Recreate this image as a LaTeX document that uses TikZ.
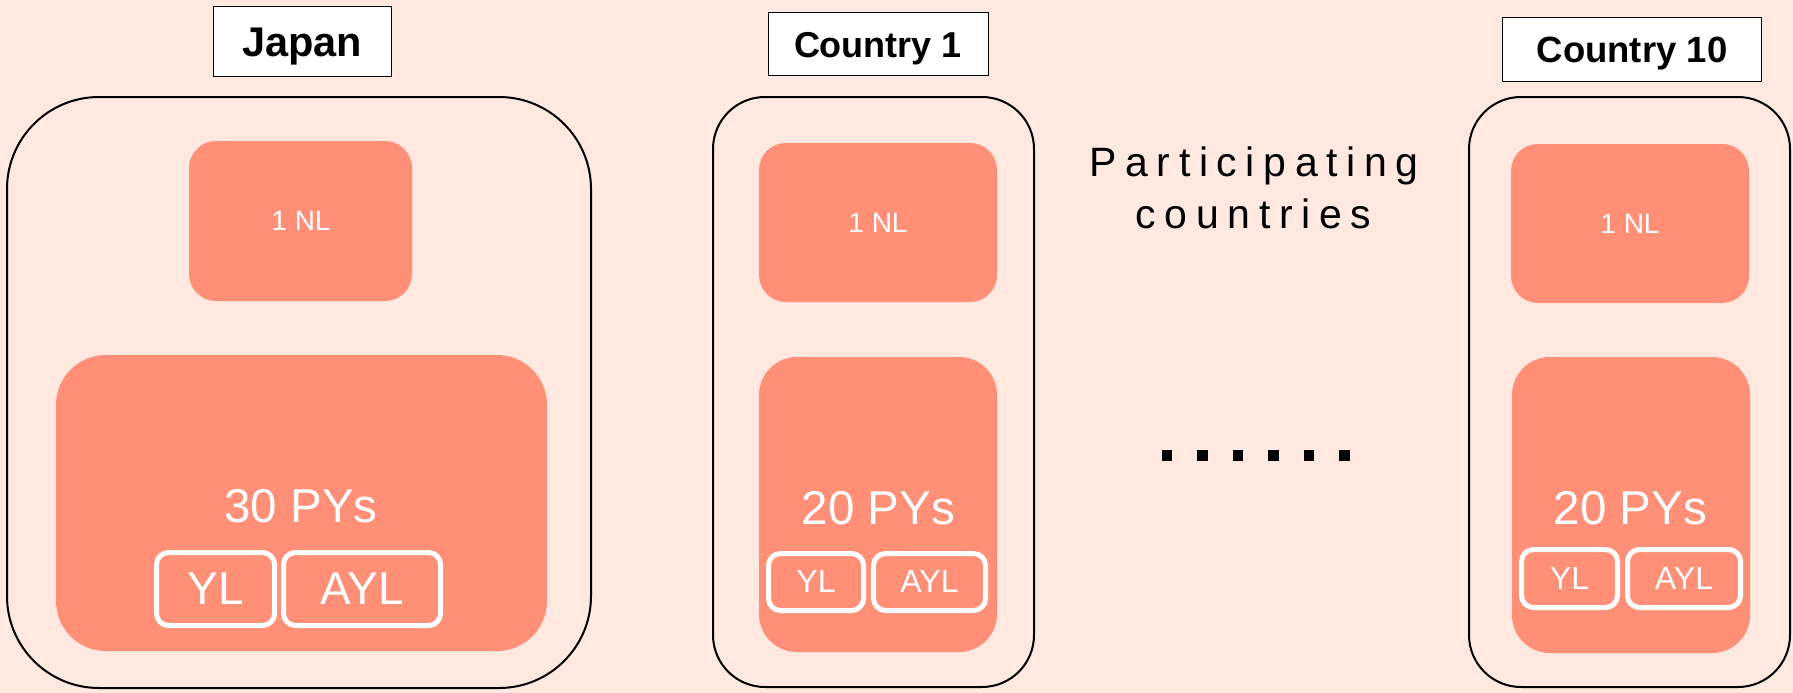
\documentclass[tikz,border=0pt]{standalone}
\usepackage{fontspec}
\setmainfont{Liberation Sans}
\definecolor{bgpink}{RGB}{255,232,224}
\definecolor{salmon}{RGB}{255,143,118}
\begin{document}
\begin{tikzpicture}[x=1pt,y=-1pt,
  labelbox/.style={draw=black,line width=1.5pt,fill=white,inner sep=0pt},
  outerbox/.style={draw=black,line width=2pt,inner sep=0pt},
  fillbox/.style={fill=salmon,inner sep=0pt},
  leadbox/.style={draw=white,line width=5pt,rounded corners=12pt,inner sep=0pt},
  wtxt/.style={anchor=base,inner sep=0pt,text=white},
  btxt/.style={anchor=base,inner sep=0pt,text=black,font=\bfseries},
  dotsq/.style={fill=black,inner sep=0pt,minimum size=10.5pt}
]
\fill[bgpink] (0,0) rectangle (1793,693);
\useasboundingbox (0,0) rectangle (1793,693);

% ---------- Japan ----------
\node[labelbox,minimum width=178pt,minimum height=70pt] (jlab) at (302.5,41.5) {};
\node[btxt,font=\bfseries\fontsize{41.5}{50}\selectfont] (jlabt) at (302,56.5) {Japan};
\node[outerbox,rounded corners=92pt,minimum width=584pt,minimum height=591pt] (jout) at (299,392.5) {};
\node[fillbox,rounded corners=27pt,minimum width=223pt,minimum height=160pt] (jnl) at (300.5,221) {};
\node[wtxt,font=\fontsize{28}{34}\selectfont] (jnlt) at (301,230.5) {1 NL};
\node[fillbox,rounded corners=50pt,minimum width=491pt,minimum height=296pt] (jpy) at (301.5,503) {};
\node[wtxt,font=\fontsize{47.5}{56}\selectfont] (jpyt) at (301,522) {30 PYs};
\node[leadbox,minimum width=118pt,minimum height=73pt] (jyl) at (215.5,589) {};
\node[wtxt,font=\fontsize{46}{56}\selectfont] (jylt) at (215.5,604) {YL};
\node[leadbox,minimum width=157pt,minimum height=73pt] (jayl) at (362,589) {};
\node[wtxt,font=\fontsize{46}{56}\selectfont] (jaylt) at (362,604) {AYL};

% ---------- Country 1 ----------
\node[labelbox,minimum width=220pt,minimum height=63pt] (c1lab) at (878.5,44) {};
\node[btxt,font=\bfseries\fontsize{36}{44}\selectfont] (c1labt) at (878,57.5) {Country 1};
\node[outerbox,rounded corners=52pt,minimum width=321pt,minimum height=590pt] (c1out) at (873.5,392) {};
\node[fillbox,rounded corners=27pt,minimum width=238pt,minimum height=159pt] (c1nl) at (878,222.5) {};
\node[wtxt,font=\fontsize{28}{34}\selectfont] (c1nlt) at (878,232) {1 NL};
\node[fillbox,rounded corners=38pt,minimum width=238pt,minimum height=295pt] (c1py) at (878,504.5) {};
\node[wtxt,font=\fontsize{47.5}{56}\selectfont] (c1pyt) at (878.5,524) {20 PYs};
\node[leadbox,minimum width=95pt,minimum height=57pt] (c1yl) at (816,582) {};
\node[wtxt,font=\fontsize{32}{38}\selectfont] (c1ylt) at (816,592) {YL};
\node[leadbox,minimum width=112pt,minimum height=57pt] (c1ayl) at (929.5,582) {};
\node[wtxt,font=\fontsize{32}{38}\selectfont] (c1aylt) at (929.5,592) {AYL};

% ---------- Country 10 ----------
\node[labelbox,minimum width=259pt,minimum height=64pt] (c10lab) at (1632,49.5) {};
\node[btxt,font=\bfseries\fontsize{36.5}{44}\selectfont] (c10labt) at (1632,62.5) {Country 10};
\node[outerbox,rounded corners=52pt,minimum width=321pt,minimum height=590pt] (c10out) at (1629.5,392) {};
\node[fillbox,rounded corners=27pt,minimum width=238pt,minimum height=159pt] (c10nl) at (1630,223.5) {};
\node[wtxt,font=\fontsize{28}{34}\selectfont] (c10nlt) at (1630,233) {1 NL};
\node[fillbox,rounded corners=38pt,minimum width=238pt,minimum height=296pt] (c10py) at (1631,505) {};
\node[wtxt,font=\fontsize{47.5}{56}\selectfont] (c10pyt) at (1630.5,524) {20 PYs};
\node[leadbox,minimum width=96pt,minimum height=58pt] (c10yl) at (1569.5,578.5) {};
\node[wtxt,font=\fontsize{32}{38}\selectfont] (c10ylt) at (1569.5,589) {YL};
\node[leadbox,minimum width=113pt,minimum height=58pt] (c10ayl) at (1684,578.5) {};
\node[wtxt,font=\fontsize{32}{38}\selectfont] (c10aylt) at (1684,589) {AYL};

% ---------- Participating countries ----------
\node[anchor=base,inner sep=0pt,font=\fontsize{41}{50}\selectfont\addfontfeature{LetterSpace=21}] (pc1) at (1254,176) {Participating};
\node[anchor=base,inner sep=0pt,font=\fontsize{41}{50}\selectfont\addfontfeature{LetterSpace=21}] (pc2) at (1253.5,228) {countries};

% ---------- dots ----------
\foreach \i in {0,...,5} {
  \node[dotsq] (dot\i) at ({1167+35.5*\i},455.5) {};
}
\end{tikzpicture}
\end{document}
